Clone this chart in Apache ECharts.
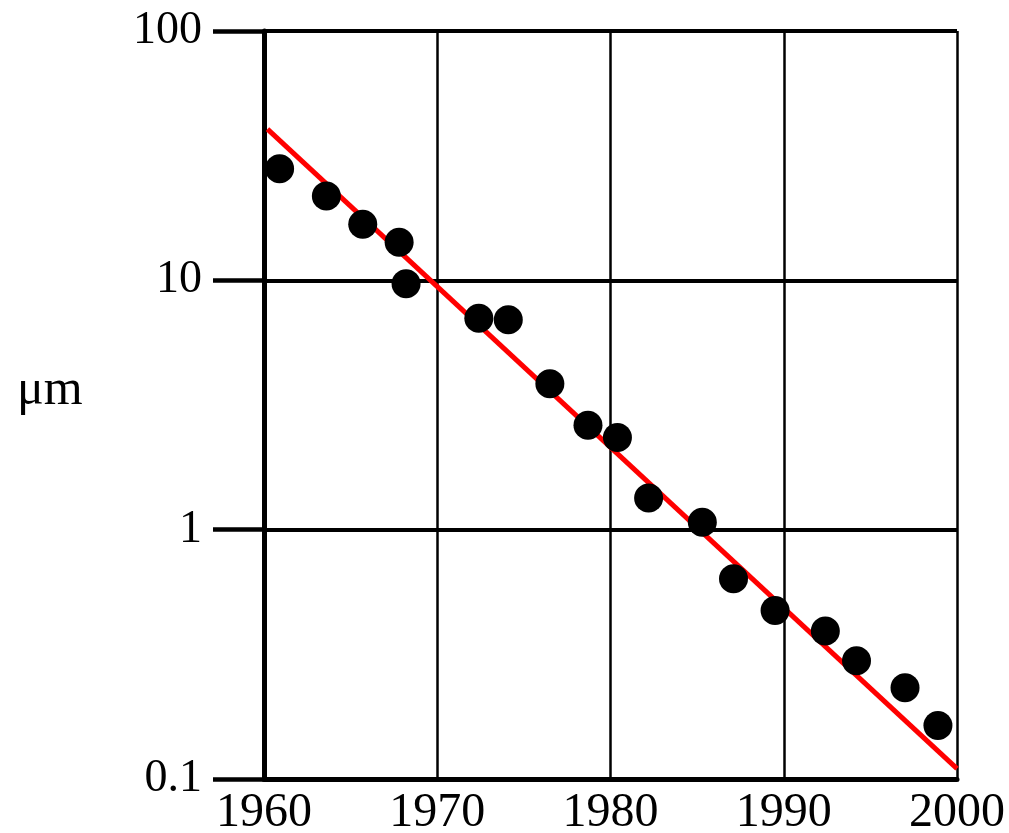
<!DOCTYPE html>
<html>
<head>
<meta charset="UTF-8">
<title></title>
<style>
	html, body { margin: 0; padding: 0; background: #fff; }
	#main { width: 1009px; height: 833px; }
</style>
</head>
<body>
<div id="main"></div>
<script src="https://cdn.jsdelivr.net/npm/echarts@6/dist/echarts.min.js"></script>
<script>
	// feature size over the years (log scale)
	var years = [1960.9, 1963.6, 1965.7, 1967.8, 1968.2, 1972.4, 1974.1, 1976.5, 1978.7, 1980.4,
		1982.2, 1985.3, 1987.1, 1989.5, 1992.4, 1994.2, 1997.0, 1998.9];
	var sizes = [28, 21.8, 16.8, 14.2, 9.7, 7.05, 6.95, 3.85, 2.62, 2.34,
		1.34, 1.07, 0.635, 0.474, 0.392, 0.298, 0.232, 0.164];
	var fitYears = [1960.2, 2000];
	var fitSizes = [40.4, 0.110];
	var yLabel = 'μm';

	var font = '"Liberation Serif", "DejaVu Serif", serif';
	var points = years.map(function (y, i) { return [y, sizes[i]]; });
	var fit = fitYears.map(function (y, i) { return [y, fitSizes[i]]; });

	var myChart = echarts.init(document.getElementById('main'));
	var option = {
		animation: false,
		backgroundColor: '#fff',
		grid: {
			left: 264,
			right: 52,
			top: 31,
			bottom: 54,
			outerBoundsMode: 'none'
		},
		graphic: [{
			type: 'text',
			left: 17,
			top: 366,
			style: {
				text: yLabel,
				font: '50px ' + font,
				fill: '#000'
			}
		}],
		xAxis: {
			type: 'value',
			min: 1960,
			max: 2000,
			interval: 10,
			axisLine: { lineStyle: { color: '#000', width: 5 } },
			axisTick: { show: false },
			axisLabel: {
				color: '#000',
				fontSize: 48,
				fontFamily: font,
				margin: 10,
				formatter: function (v) { return String(v); }
			},
			splitLine: { show: true, lineStyle: { color: '#000', width: 2.5 } }
		},
		yAxis: {
			type: 'log',
			logBase: 10,
			min: 0.1,
			max: 100,
			axisLine: { show: true, lineStyle: { color: '#000', width: 5 } },
			axisTick: { show: true, length: 51, lineStyle: { color: '#000', width: 4.5 } },
			axisLabel: {
				color: '#000',
				fontSize: 46,
				fontFamily: font,
				margin: 62
			},
			splitLine: { show: true, lineStyle: { color: '#000', width: 4 } }
		},
		series: [{
			name: 'fit',
			type: 'line',
			data: fit,
			symbol: 'none',
			z: 3,
			lineStyle: { color: '#ff0000', width: 5 }
		}, {
			name: 'size',
			type: 'scatter',
			data: points,
			symbolSize: 29,
			z: 4,
			itemStyle: { color: '#000', opacity: 1 }
		}]
	};
	myChart.setOption(option);
</script>
</body>
</html>
